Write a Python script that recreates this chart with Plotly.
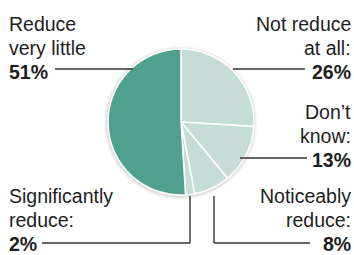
import plotly.graph_objects as go

W, H = 354, 255

# Data (clockwise from 12 o'clock)
categories = ["Not reduce at all", "Don't know", "Noticeably reduce", "Significantly reduce", "Reduce very little"]
values = [26, 13, 8, 2, 51]
colors = ["#c6ddd7", "#c6ddd7", "#c6ddd7", "#c6ddd7", "#4fa08f"]

# Label texts (lines) and percentages
label_lines = {
    "Reduce very little": ["Reduce", "very little"],
    "Not reduce at all": ["Not reduce", "at all:"],
    "Don't know": ["Don\u2019t", "know:"],
    "Significantly reduce": ["Significantly", "reduce:"],
    "Noticeably reduce": ["Noticeably", "reduce:"],
}

cx, cy, r = 181, 122, 73

def px(x):
    return x / W

def py(y):
    return 1 - y / H

fig = go.Figure()
fig.add_trace(go.Pie(
    labels=categories,
    values=values,
    sort=False,
    direction="clockwise",
    rotation=0,
    marker=dict(colors=colors, line=dict(color="white", width=1.5)),
    textinfo="none",
    hoverinfo="label+percent",
    showlegend=False,
    domain=dict(x=[px(cx - r), px(cx + r)], y=[py(cy + r), py(cy - r)]),
))

shapes = []
# soft shadow around pie
for dr, op in [(4, 0.03), (2.8, 0.04), (1.6, 0.06)]:
    shapes.append(dict(type="circle", xref="paper", yref="paper", layer="below",
                       x0=px(cx - r - dr - 0.5), x1=px(cx + r + dr - 0.5),
                       y0=py(cy + r + dr + 0.8), y1=py(cy - r - dr + 0.8),
                       fillcolor=f"rgba(0,0,0,{op})", line=dict(width=0)))

LC = "#333333"
LW = 1.4
def seg(x0, y0, x1, y1):
    shapes.append(dict(type="line", xref="paper", yref="paper",
                       x0=px(x0), y0=py(y0), x1=px(x1), y1=py(y1),
                       line=dict(color=LC, width=LW)))

seg(55, 69, 133, 69)      # 51%
seg(233, 69, 305, 69)     # 26%
seg(240, 158, 307, 158)   # 13%
seg(214, 196, 214, 243)   # 8% vertical
seg(214, 243, 310, 243)   # 8% horizontal
seg(42, 243, 190, 243)    # 2% horizontal
seg(190, 243, 190, 196)   # 2% vertical

FONT = "Liberation Sans"
FS = 19.5
TC = "#1e1e1e"

annotations = []
def block(cat, x, y_top, align):
    lines = label_lines[cat] + ["<b>%d%%</b>" % values[categories.index(cat)]]
    for i, t in enumerate(lines):
        annotations.append(dict(
            x=px(x), y=py(y_top + i * 23.8), xref="paper", yref="paper",
            text=t, showarrow=False,
            xanchor="left" if align == "left" else "right", yanchor="middle",
            font=dict(family=FONT, size=FS, color=TC), align=align,
        ))

block("Reduce very little", 7, 24, "left")
block("Not reduce at all", 353, 24, "right")
block("Don't know", 353, 112, "right")
block("Significantly reduce", 7, 196, "left")
block("Noticeably reduce", 353, 196, "right")

fig.update_layout(
    width=W, height=H,
    margin=dict(l=0, r=0, t=0, b=0),
    paper_bgcolor="white", plot_bgcolor="white",
    shapes=shapes, annotations=annotations,
)

fig.write_html("out.html", config={"displayModeBar": False},
               post_script="document.body.style.margin='0';document.body.style.overflow='hidden';")
